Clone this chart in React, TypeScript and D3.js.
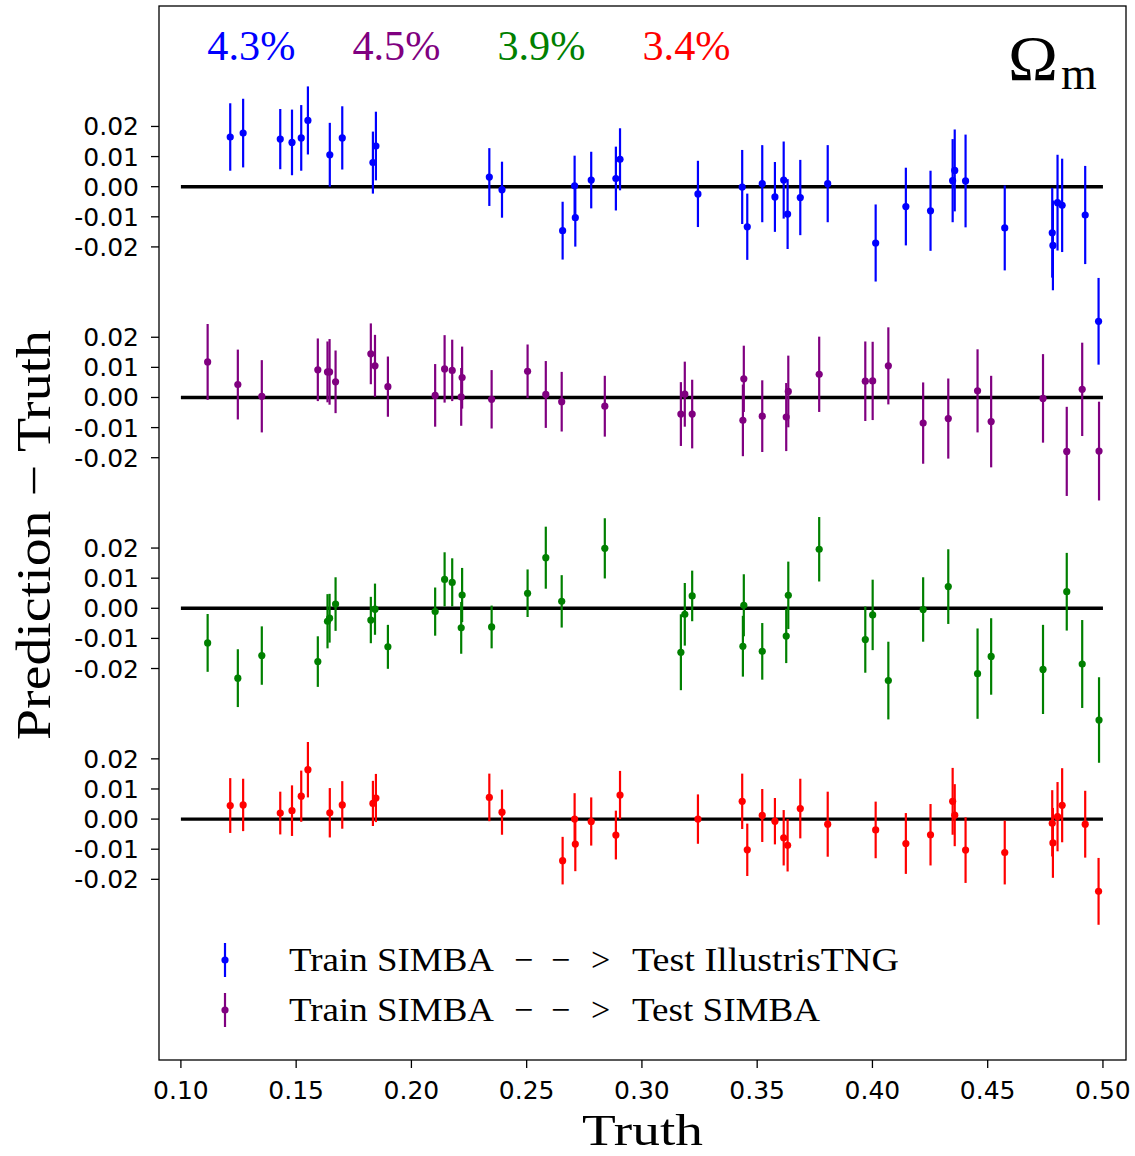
import React from "react";
import * as d3 from "d3";

// Truth values of the two test sets (IllustrisTNG and SIMBA)
const truthTNG = [0.1214, 0.127, 0.1431, 0.1482, 0.1522, 0.1551, 0.1646, 0.17, 0.1833, 0.1846, 0.2338, 0.2393, 0.2656, 0.2708, 0.2711, 0.278, 0.2887, 0.2905, 0.3243, 0.3435, 0.3457, 0.3522, 0.3577, 0.3615, 0.3632, 0.3687, 0.3806, 0.4014, 0.4145, 0.4252, 0.4348, 0.4357, 0.4404, 0.4574, 0.478, 0.4783, 0.4803, 0.4823, 0.4923, 0.4981];
const truthSIMBA = [0.1116, 0.1247, 0.1351, 0.1594, 0.1636, 0.1645, 0.1671, 0.1824, 0.1842, 0.1898, 0.2103, 0.2144, 0.2177, 0.222, 0.2216, 0.2348, 0.2504, 0.2583, 0.2652, 0.2839, 0.3169, 0.3186, 0.3218, 0.3442, 0.3438, 0.3522, 0.3626, 0.3635, 0.3769, 0.3969, 0.4001, 0.4069, 0.422, 0.4329, 0.4456, 0.4515, 0.474, 0.4843, 0.491, 0.4983];

// Prediction - Truth and 1-sigma errors, per series
const blueDelta = [0.0165, 0.0178, 0.0158, 0.0147, 0.0162, 0.022, 0.0106, 0.0162, 0.008, 0.0135, 0.0032, -0.001, -0.0146, 0.0003, -0.0103, 0.0022, 0.0027, 0.0091, -0.0024, -0.0001, -0.0133, 0.001, -0.0034, 0.0022, -0.0091, -0.0036, 0.001, -0.0187, -0.0066, -0.008, 0.002, 0.0054, 0.0019, -0.0137, -0.0153, -0.0195, -0.0053, -0.0062, -0.0094, -0.0447];
const blueErr = [0.0112, 0.0114, 0.01, 0.0109, 0.0109, 0.0113, 0.0106, 0.0105, 0.0103, 0.0114, 0.0096, 0.0093, 0.0096, 0.01, 0.0096, 0.0094, 0.0106, 0.0103, 0.011, 0.0123, 0.011, 0.0128, 0.0116, 0.0128, 0.0116, 0.0125, 0.0128, 0.0128, 0.0129, 0.0133, 0.0138, 0.0136, 0.0154, 0.0141, 0.0149, 0.0149, 0.0159, 0.0155, 0.0163, 0.0144];

const purpleDelta = [0.0118, 0.0043, 0.0004, 0.0092, 0.0085, 0.0085, 0.0052, 0.0145, 0.0105, 0.0036, 0.0007, 0.0095, 0.009, 0.0066, 0.0002, -0.0006, 0.0087, 0.001, -0.0014, -0.0029, -0.0055, 0.0011, -0.0055, 0.0062, -0.0076, -0.0062, -0.0065, 0.002, 0.0077, 0.0054, 0.0055, 0.0105, -0.0085, -0.007, 0.0022, -0.008, -0.0003, -0.0179, 0.0027, -0.0178];
const purpleErr = [0.0126, 0.0116, 0.012, 0.0104, 0.0101, 0.0109, 0.0104, 0.0101, 0.0103, 0.01, 0.0104, 0.0112, 0.0102, 0.0103, 0.0096, 0.0097, 0.0089, 0.0111, 0.0099, 0.0101, 0.0106, 0.0108, 0.0114, 0.011, 0.0119, 0.0119, 0.0113, 0.0119, 0.0125, 0.0132, 0.013, 0.0128, 0.0135, 0.0133, 0.0138, 0.0152, 0.0147, 0.0148, 0.0155, 0.0164];

const greenDelta = [-0.0115, -0.0232, -0.0157, -0.0177, -0.0043, -0.0033, 0.0014, -0.0039, -0.0003, -0.0128, -0.0011, 0.0096, 0.0086, 0.0044, -0.0065, -0.0062, 0.005, 0.0168, 0.0023, 0.0199, -0.0146, -0.002, 0.0041, 0.001, -0.0126, -0.0143, -0.0092, 0.0043, 0.0196, -0.0104, -0.0022, -0.024, -0.0004, 0.0072, -0.0217, -0.016, -0.0203, 0.0055, -0.0185, -0.0371];
const greenErr = [0.0096, 0.0096, 0.0097, 0.0084, 0.009, 0.0081, 0.0089, 0.0077, 0.0085, 0.0073, 0.008, 0.009, 0.008, 0.009, 0.0086, 0.0071, 0.0079, 0.0103, 0.0087, 0.01, 0.0126, 0.0104, 0.0084, 0.0103, 0.0101, 0.0094, 0.009, 0.0112, 0.0107, 0.011, 0.0117, 0.0129, 0.0107, 0.0124, 0.015, 0.0127, 0.0148, 0.0129, 0.0146, 0.0142];

const redDelta = [0.0045, 0.0047, 0.002, 0.0028, 0.0076, 0.0164, 0.0021, 0.0047, 0.0052, 0.007, 0.0072, 0.0023, -0.0138, 0.0, -0.0083, -0.0008, -0.0053, 0.008, 0.0, 0.0059, -0.0102, 0.0012, -0.0007, -0.0062, -0.0087, 0.0035, -0.0017, -0.0036, -0.0081, -0.0052, 0.0059, 0.0013, -0.0103, -0.0111, -0.0014, -0.0079, 0.0008, 0.0046, -0.0017, -0.024];
const redErr = [0.0091, 0.0087, 0.0071, 0.0084, 0.0085, 0.0092, 0.0082, 0.0079, 0.0075, 0.008, 0.0079, 0.0075, 0.0079, 0.0086, 0.009, 0.008, 0.0081, 0.008, 0.0082, 0.0092, 0.0087, 0.0088, 0.0077, 0.0092, 0.0087, 0.0099, 0.0108, 0.0094, 0.0101, 0.0102, 0.0111, 0.0103, 0.0109, 0.0106, 0.011, 0.0116, 0.0115, 0.0123, 0.0111, 0.0111];

// Vertical shift applied to each panel strip
const stripOffsets = [0, -0.07, -0.14, -0.21];
const percentLabels = ["4.3%", "4.5%", "3.9%", "3.4%"];
const seriesColors = ["#0000ff", "#800080", "#008000", "#ff0000"];
const yTickValues = [0.02, 0.01, 0.0, -0.01, -0.02];
const yTickLabels = ["0.02", "0.01", "0.00", "-0.01", "-0.02"];
const xTickValues = [0.1, 0.15, 0.2, 0.25, 0.3, 0.35, 0.4, 0.45, 0.5];
const legendLabels = [
  ["Train SIMBA", "Test IllustrisTNG"],
  ["Train SIMBA", "Test SIMBA"],
];

const W = 1135;
const H = 1156;
const L = 159, R = 1126, T = 6, B = 1060;

const series = [
  { truth: truthTNG, delta: blueDelta, err: blueErr },
  { truth: truthSIMBA, delta: purpleDelta, err: purpleErr },
  { truth: truthSIMBA, delta: greenDelta, err: greenErr },
  { truth: truthTNG, delta: redDelta, err: redErr },
];

const serif = "'Liberation Serif', 'Times New Roman', serif";
const sans = "'DejaVu Sans', sans-serif";

export default function App() {
  const x = d3.scaleLinear().domain([0.0905, 0.51]).range([L, R]);
  const y = d3.scaleLinear().domain([-0.29, 0.06]).range([B, T]);
  const fmtX = d3.format(".2f");
  const axW = R - L;
  const axH = B - T;

  return (
    <svg width={W} height={H} style={{ position: "absolute", left: 0, top: 0, background: "#fff" }}>
      <rect x={0} y={0} width={W} height={H} fill="#fff" />

      {/* zero reference lines */}
      {stripOffsets.map((off, i) => (
        <line key={"z" + i} x1={x(0.1)} x2={x(0.5)} y1={y(off)} y2={y(off)} stroke="#000" strokeWidth={3.4} />
      ))}

      {/* error bars and points */}
      {series.map((s, si) => (
        <g key={"s" + si} stroke={seriesColors[si]} fill={seriesColors[si]}>
          {s.truth.map((t, i) => {
            const off = stripOffsets[si];
            const v = s.delta[i] + off;
            return (
              <g key={i}>
                <line x1={x(t)} x2={x(t)} y1={y(v - s.err[i])} y2={y(v + s.err[i])} strokeWidth={2.2} />
                <circle cx={x(t)} cy={y(v)} r={3.6} stroke="none" />
              </g>
            );
          })}
        </g>
      ))}

      {/* frame */}
      <rect x={L} y={T} width={axW} height={axH} fill="none" stroke="#000" strokeWidth={1.3} />

      {/* y ticks per strip */}
      {stripOffsets.map((off, gi) =>
        yTickValues.map((tv, ti) => (
          <g key={`yt${gi}-${ti}`}>
            <line x1={L - 8} x2={L} y1={y(tv + off)} y2={y(tv + off)} stroke="#000" strokeWidth={1.3} />
            <text x={L - 20} y={y(tv + off)} dy="0.36em" textAnchor="end" fontFamily={sans} fontSize={25} fill="#000">
              {yTickLabels[ti]}
            </text>
          </g>
        ))
      )}

      {/* x ticks */}
      {xTickValues.map((tv) => (
        <g key={"xt" + tv}>
          <line x1={x(tv)} x2={x(tv)} y1={B} y2={B + 8} stroke="#000" strokeWidth={1.3} />
          <text x={x(tv)} y={1099} textAnchor="middle" fontFamily={sans} fontSize={25} fill="#000">
            {fmtX(tv)}
          </text>
        </g>
      ))}

      {/* axis labels */}
      <text x={(L + R) / 2} y={1145} textAnchor="middle" fontFamily={serif} fontSize={44}
        textLength={121} lengthAdjust="spacingAndGlyphs" fill="#000">Truth</text>
      <text transform={`translate(50, ${(T + B) / 2 + 2}) rotate(-90)`} textAnchor="middle" fontFamily={serif} fontSize={48}
        textLength={410} lengthAdjust="spacingAndGlyphs" fill="#000">Prediction − Truth</text>

      {/* per-series scatter percentages */}
      {percentLabels.map((p, i) => (
        <text key={"p" + i} x={L + axW * (0.05 + 0.15 * i)} y={B - axH * 0.949} fontFamily={serif} fontSize={42}
          textLength={88} lengthAdjust="spacingAndGlyphs" fill={seriesColors[i]}>{p}</text>
      ))}

      {/* parameter name */}
      <text x={L + axW * 0.878} y={80} fontFamily={serif} fontSize={64} textLength={50} lengthAdjust="spacingAndGlyphs" fill="#000">Ω</text>
      <text x={1061} y={89} fontFamily={serif} fontSize={46} fill="#000">m</text>

      {/* legend */}
      {legendLabels.map((lab, i) => {
        const cy = 960 + 50 * i;
        return (
          <g key={"lg" + i}>
            <line x1={225} x2={225} y1={cy - 17} y2={cy + 17} stroke={seriesColors[i]} strokeWidth={2.2} />
            <circle cx={225} cy={cy} r={3.6} fill={seriesColors[i]} />
            <text x={289} y={cy + 11} fontFamily={serif} fontSize={34} textLength={205} lengthAdjust="spacingAndGlyphs" fill="#000">{lab[0]}</text>
            <text x={514} y={cy + 11} fontFamily={serif} fontSize={34} fill="#000">−</text>
            <text x={551} y={cy + 11} fontFamily={serif} fontSize={34} fill="#000">−</text>
            <text x={591} y={cy + 11} fontFamily={serif} fontSize={34} fill="#000">&gt;</text>
            <text x={632} y={cy + 11} fontFamily={serif} fontSize={34} textLength={i === 0 ? 267 : 188} lengthAdjust="spacingAndGlyphs" fill="#000">{lab[1]}</text>
          </g>
        );
      })}
    </svg>
  );
}
